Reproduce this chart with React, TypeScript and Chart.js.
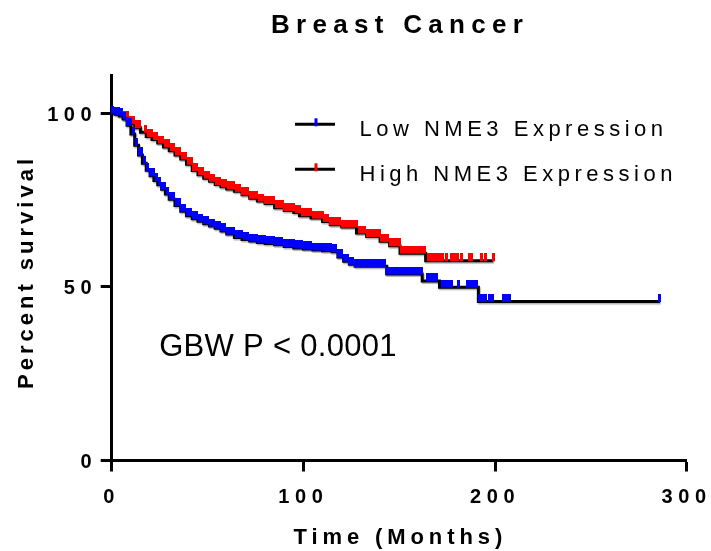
import React, { useEffect, useRef } from "react";
import { Chart, registerables } from "chart.js";

Chart.register(...registerables);

// Kaplan–Meier step values (months, percent surviving after the drop at that time)
const lowTimes = [
  0, 2, 4, 6, 8, 10, 12, 14, 16, 18, 20, 22, 24, 26, 28, 30, 33, 36, 39, 42,
  45, 48, 51, 54, 57, 60, 64, 68, 72, 76, 80, 85, 90, 95, 100, 105, 110, 115,
  118, 121, 124, 127, 143.5, 162, 171, 191.3, 286,
];
const lowSurvival = [
  100, 99.7, 99.2, 98.3, 96.5, 94, 90.8, 88, 85.6, 83.6, 82, 80.6, 79.4, 78.1,
  76.7, 75.2, 73.4, 71.8, 70.5, 69.6, 68.9, 68.2, 67.5, 66.9, 66.1, 65.2, 64.2,
  63.6, 63.2, 62.8, 62.5, 62.1, 61.6, 61.2, 60.9, 60.6, 60.4, 60.1, 58.6, 57.4,
  56.5, 55.9, 53.7, 51.7, 49.9, 45.8, 45.8,
];
const highTimes = [
  0, 3, 6, 9, 12, 15, 18, 21, 24, 27, 30, 33, 36, 39, 42, 45, 48, 51, 54, 57,
  60, 64, 68, 72, 76, 80, 85, 90, 95, 98, 104, 110, 114, 120, 127.7, 133, 140,
  145, 150.4, 163.8, 199,
];
const highSurvival = [
  100, 99.6, 98.5, 97, 95.8, 94.5, 93.3, 92.4, 91.4, 90.3, 89.2, 88, 86.8, 85.3,
  83.5, 82.3, 81.3, 80.4, 79.5, 78.8, 78.2, 77.5, 76.5, 75.5, 74.7, 74, 72.8, 72,
  71.4, 70.5, 69.8, 68.8, 67.9, 67.2, 65.5, 64.5, 63.1, 61.8, 59.7, 57.5, 57.5,
];

// Censored observations (months)
const lowCensored = [
  0.6, 2.2, 3.8, 5.3, 6.9, 8.4, 9.9, 11.4, 12.8, 14.3, 15.8, 17.3, 18.8, 20.3,
  21.8, 23.3, 24.8, 26.2, 27.7, 29.2, 30.7, 32.2, 33.7, 35.2, 36.6, 38.1, 39.6,
  41.1, 42.6, 44.1, 45.6, 47, 48.5, 50, 51.5, 53, 54.5, 56, 57.4, 58.9, 60.4,
  61.9, 63.4, 64.9, 66.4, 67.8, 69.3, 70.8, 72.3, 73.8, 75.3, 76.8, 78.2, 79.7,
  81.2, 82.7, 84.2, 85.7, 87.2, 88.6, 90.1, 91.6, 93.1, 94.6, 96.1, 97.6, 99,
  100.5, 102, 103.5, 105, 106.5, 108, 109.4, 110.9, 112.4, 113.9, 115.4, 116.9,
  118.4, 119.8, 121.3, 122.8, 124.3, 125.8, 127.3, 128.8, 130.2, 131.7, 133.2,
  134.7, 136.2, 137.7, 139.2, 140.6, 142.1, 143.6, 145.1, 146.6, 148.1, 149.6,
  151, 152.5, 154, 155.5, 157, 158.4, 160, 161.5, 164.8, 166.4, 168, 169.6,
  172.6, 174.2, 175.8, 177.2, 180.8, 185.5, 187, 188.6, 190.2, 192, 193.6,
  195.2, 197.3, 198.9, 204.5, 206, 207.6, 286,
];
const highCensored = [
  6.8, 8.3, 9.8, 11.3, 12.8, 14.3, 17.6, 19.1, 20.6, 22.1, 23.6, 25.1, 26.6, 28,
  29.5, 31, 32.5, 34, 35.5, 37, 38.4, 39.9, 41.4, 42.9, 44.4, 45.9, 47.4, 48.8,
  50.3, 51.8, 53.3, 54.8, 56.3, 57.8, 59.2, 60.7, 62.2, 63.7, 65.2, 66.7, 68.2,
  69.6, 71.1, 72.6, 74.1, 75.6, 77.1, 78.6, 80, 81.5, 83, 84.5, 86, 87.5, 89,
  90.4, 91.9, 93.4, 94.9, 96.4, 97.9, 99.4, 100.8, 102.3, 103.8, 105.3, 106.8,
  108.3, 109.8, 111.2, 112.7, 114.2, 115.7, 117.2, 118.7, 120.2, 121.6, 123.1,
  124.6, 126.1, 127.6, 129.1, 130.6, 132, 133.5, 135, 136.5, 138, 139.5, 141,
  142.4, 143.9, 145.4, 146.9, 148.4, 149.9, 151.4, 152.8, 154.3, 155.8, 157.3,
  158.8, 160.3, 161.8, 163.2, 165.1, 166.7, 168.3, 169.9, 171.4, 172.4, 174.8,
  177.3, 178.9, 180.5, 182.3, 186.8, 187.8, 193, 195.2, 199,
];

const xTicks = [0, 100, 200, 300];
const yTicks = [0, 50, 100];

const chartTitle = "Breast Cancer";
const xTitle = "Time (Months)";
const yTitle = "Percent survival";
const seriesNames = ["Low NME3 Expression", "High NME3 Expression"];
const seriesColors = ["#0000ff", "#ff0000"];
const statText = "GBW P < 0.0001";

const FONT = "'Liberation Sans', Arial, Helvetica, sans-serif";

// KM value in effect at time t
function survivalAt(times: number[], surv: number[], t: number): number {
  let v = surv[0];
  for (let i = 0; i < times.length; i++) {
    if (times[i] <= t) v = surv[i];
    else break;
  }
  return v;
}

// small vertical censor tick sitting on top of the curve
function censorMark(color: string): HTMLCanvasElement {
  const c = document.createElement("canvas");
  c.width = 3;
  c.height = 15;
  const g = c.getContext("2d")!;
  g.fillStyle = color;
  g.fillRect(0, 0, 3, 8);
  return c;
}

function drawText(
  ctx: CanvasRenderingContext2D,
  text: string,
  x: number,
  y: number,
  font: string,
  spacing: number,
  align: CanvasTextAlign,
  rotate = 0
) {
  ctx.save();
  ctx.translate(x, y);
  if (rotate) ctx.rotate(rotate);
  ctx.font = font;
  (ctx as any).letterSpacing = `${spacing}px`;
  ctx.fillStyle = "#000";
  ctx.textAlign = align;
  ctx.textBaseline = "alphabetic";
  ctx.fillText(text, 0, 0);
  ctx.restore();
}

const tickSpacingPlugin = {
  id: "tickSpacing",
  beforeDraw(chart: any) {
    chart.ctx.letterSpacing = "5.6px";
  },
};

const lineShadowPlugin = {
  id: "lineShadow",
  beforeDatasetDraw(chart: any, args: any) {
    const ds = chart.data.datasets[args.index];
    if (ds.showLine === false) return;
    const ctx = chart.ctx;
    ctx.save();
    ctx.shadowColor = "rgba(0,0,0,0.3)";
    ctx.shadowOffsetX = 1;
    ctx.shadowOffsetY = 1.5;
    ctx.shadowBlur = 1;
  },
  afterDatasetDraw(chart: any, args: any) {
    const ds = chart.data.datasets[args.index];
    if (ds.showLine === false) return;
    chart.ctx.restore();
  },
};

const labelsPlugin = {
  id: "kmLabels",
  afterDraw(chart: any) {
    const ctx: CanvasRenderingContext2D = chart.ctx;
    ctx.save();
    // title
    drawText(ctx, chartTitle, 400, 33, `bold 26px ${FONT}`, 6.3, "center");
    // axis titles
    drawText(ctx, xTitle, 400.3, 544, `bold 22px ${FONT}`, 4.9, "center");
    drawText(ctx, yTitle, 33.3, 272, `bold 22px ${FONT}`, 4, "center", -Math.PI / 2);

    // legend
    const rows = [124.3, 169.3];
    rows.forEach((ly, i) => {
      ctx.save();
      ctx.strokeStyle = "#000";
      ctx.lineWidth = 3;
      ctx.beginPath();
      ctx.moveTo(295, ly);
      ctx.lineTo(335, ly);
      ctx.stroke();
      ctx.fillStyle = seriesColors[i];
      ctx.fillRect(314.5, ly - 6, 3, 8);
      ctx.restore();
      drawText(ctx, seriesNames[i], 359.5, ly + 11.7, `22px ${FONT}`, 4.5, "left");
    });

    // test statistic
    drawText(ctx, statText, 159.2, 356, `31px ${FONT}`, 0.3, "left");
    ctx.restore();
  },
};

export default function App() {
  const canvasRef = useRef<HTMLCanvasElement | null>(null);

  useEffect(() => {
    const canvas = canvasRef.current;
    if (!canvas) return;

    const lowLine = lowTimes.map((t, i) => ({ x: t, y: lowSurvival[i] }));
    const highLine = highTimes.map((t, i) => ({ x: t, y: highSurvival[i] }));
    const lowMarks = lowCensored.map((t) => ({ x: t, y: survivalAt(lowTimes, lowSurvival, t) }));
    const highMarks = highCensored.map((t) => ({ x: t, y: survivalAt(highTimes, highSurvival, t) }));

    const tickFont = { family: FONT, size: 20, weight: "bold" as const };

    const chart = new Chart(canvas, {
      type: "line",
      data: {
        datasets: [
          {
            label: seriesNames[0] + " censored",
            data: lowMarks,
            showLine: false,
            pointStyle: censorMark(seriesColors[0]),
            pointRadius: 3,
            order: 0,
            clip: false,
          } as any,
          {
            label: seriesNames[0],
            data: lowLine,
            stepped: "before",
            borderColor: "#000",
            borderWidth: 3,
            pointRadius: 0,
            fill: false,
            order: 1,
            clip: false,
          },
          {
            label: seriesNames[1] + " censored",
            data: highMarks,
            showLine: false,
            pointStyle: censorMark(seriesColors[1]),
            pointRadius: 3,
            order: 2,
            clip: false,
          } as any,
          {
            label: seriesNames[1],
            data: highLine,
            stepped: "before",
            borderColor: "#000",
            borderWidth: 3,
            pointRadius: 0,
            fill: false,
            order: 3,
            clip: false,
          },
        ],
      },
      options: {
        responsive: false,
        animation: false,
        events: [],
        layout: { padding: { top: 75, right: 24.3, bottom: 0, left: 0 } },
        plugins: {
          legend: { display: false },
          title: { display: false },
          tooltip: { enabled: false },
        },
        scales: {
          x: {
            type: "linear",
            min: 0,
            max: 300,
            afterBuildTicks: (s: any) => {
              s.ticks = xTicks.map((v) => ({ value: v }));
            },
            afterFit: (s: any) => {
              s.height = 90.5;
              s.paddingLeft = 0;
              s.paddingRight = 0;
            },
            grid: {
              drawOnChartArea: false,
              drawTicks: true,
              tickLength: 11,
              tickWidth: 3,
              tickColor: "#000",
              color: "#000",
            },
            border: { display: true, color: "#000", width: 3 },
            ticks: {
              color: "#000",
              padding: 13.5,
              font: tickFont,
              maxRotation: 0,
              autoSkip: false,
            },
          },
          y: {
            type: "linear",
            min: 0,
            max: 111,
            afterBuildTicks: (s: any) => {
              s.ticks = yTicks.map((v) => ({ value: v }));
            },
            afterFit: (s: any) => {
              s.width = 111.7;
              s.paddingTop = 0;
              s.paddingBottom = 0;
            },
            grid: {
              drawOnChartArea: false,
              drawTicks: true,
              tickLength: 11,
              tickWidth: 3,
              tickColor: "#000",
              color: "#000",
            },
            border: { display: true, color: "#000", width: 3 },
            ticks: {
              color: "#000",
              padding: 3.4,
              labelOffset: 2,
              font: tickFont,
              autoSkip: false,
            },
          },
        },
      },
      plugins: [tickSpacingPlugin, lineShadowPlugin, labelsPlugin],
    });

    return () => chart.destroy();
  }, []);

  return (
    <canvas
      ref={canvasRef}
      width={711}
      height={551}
      style={{ position: "absolute", left: 0, top: 0, display: "block" }}
    />
  );
}
